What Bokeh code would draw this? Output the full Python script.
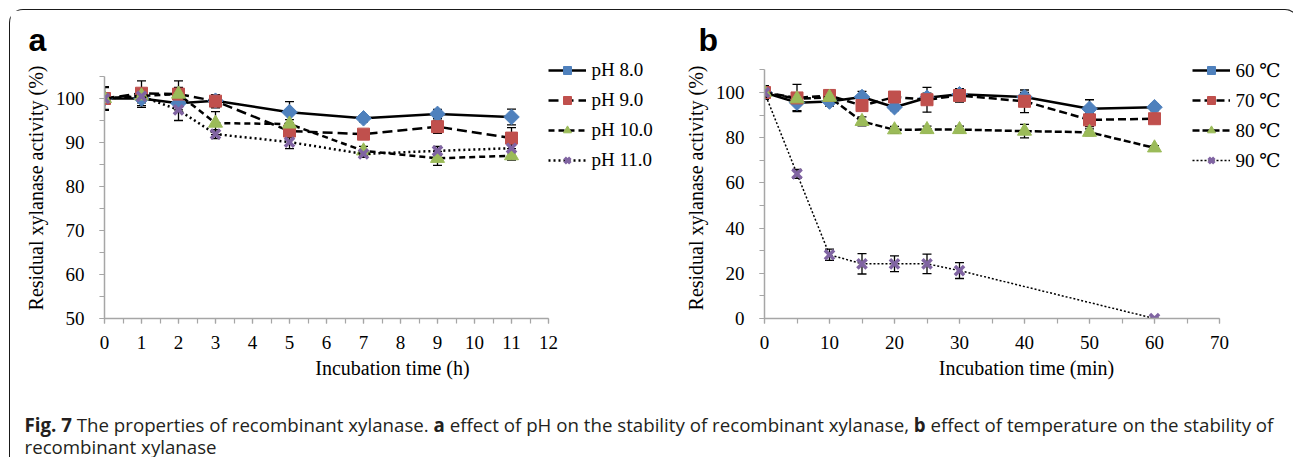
import math
from bokeh.plotting import figure
from bokeh.models import (Range1d, FixedTicker, Legend, LegendItem, Whisker,
                          ColumnDataSource, Div, TeeHead)
from bokeh.layouts import row, column
from bokeh.embed import file_html
from bokeh.resources import INLINE

# ---------------- data: panel a (pH stability) ----------------
hours = [0, 1, 2, 3, 5, 7, 9, 11]
ph_labels = ["pH 8.0", "pH 9.0", "pH 10.0", "pH 11.0"]
ph80 = [100.0, 100.0, 98.9, 99.5, 96.9, 95.5, 96.5, 95.8]
ph90 = [100.0, 101.2, 101.0, 99.4, 92.6, 91.9, 93.6, 91.0]
ph100 = [100.0, 100.6, 101.0, 94.4, 94.2, 88.1, 86.4, 87.0]
ph110 = [100.0, 100.5, 97.4, 91.9, 90.1, 87.4, 88.1, 88.7]
ph80_err = [2.5, 2.0, 1.5, 1.0, 2.4, 0.8, 1.0, 1.8]
ph90_err = [2.7, 2.8, 3.0, 1.5, 1.5, 1.0, 1.5, 2.4]
ph100_err = [1.0, 1.0, 1.5, 2.6, 1.0, 1.0, 1.6, 1.0]
ph110_err = [1.0, 1.5, 2.4, 1.0, 1.5, 0.8, 1.0, 1.0]

# ---------------- data: panel b (temperature stability) ----------------
minutes = [0, 5, 10, 15, 20, 25, 30, 40, 50, 60]
minutes90 = [0, 5, 10, 15, 20, 25, 30, 60]
temp_labels = ["60 \u2103", "70 \u2103", "80 \u2103", "90 \u2103"]
t60 = [100.0, 95.5, 96.0, 98.0, 93.5, 97.7, 99.2, 98.0, 92.8, 93.5]
t70 = [100.0, 97.6, 98.7, 94.2, 98.0, 96.8, 98.7, 96.1, 87.9, 88.4]
t80 = [100.0, 97.2, 97.9, 87.2, 83.5, 83.6, 83.6, 82.9, 82.4, 75.5]
t90 = [100.0, 64.0, 28.2, 24.2, 24.2, 24.2, 21.2, 0.0]
t60_err = [2.5, 3.5, 2.0, 2.5, 1.5, 2.0, 2.0, 2.0, 4.0, 1.5]
t70_err = [3.0, 6.0, 2.5, 2.0, 2.0, 5.5, 3.0, 5.0, 3.0, 2.0]
t80_err = [2.0, 2.0, 2.0, 2.0, 1.5, 1.5, 1.5, 3.0, 1.5, 1.0]
t90_err = [2.0, 2.0, 2.5, 4.5, 3.5, 4.3, 3.5, 0.0]

# axis ticks / labels
a_xbounds, a_ybounds = (0, 12), (50, 105)
b_xbounds, b_ybounds = (0, 70), (0, 110)
a_xticks = list(range(0, 13))
a_yticks = [50, 60, 70, 80, 90, 100]
b_xticks = [0, 10, 20, 30, 40, 50, 60, 70]
b_yticks = [0, 20, 40, 60, 80, 100]
a_xlabel = "Incubation time (h)"
b_xlabel = "Incubation time (min)"
ylabel = "Residual xylanase activity (%)"
panel_letters = ["a", "b"]

caption_bold = "Fig. 7"
caption_line1 = (" The properties of recombinant xylanase. <b>a</b> effect of pH on the stability of "
                 "recombinant xylanase, <b>b</b> effect of temperature on the stability of")
caption_line2 = "recombinant xylanase"

# ---------------- styles ----------------
BLUE, RED, GREEN, PURPLE = "#4F81BD", "#C0504D", "#9BBB59", "#8064A2"
AXIS_COL = "#a6a6a6"
SERIF = "Liberation Serif"
SERIF_FB = "'Liberation Serif', 'DejaVu Serif', serif"
FS = "19px"
FS_TITLE = "20px"


def make_fig(w, h, ml, mt, mb, xbounds, ybounds, px_per_x, px_per_y,
             letter, letter_off, letter_standoff):
    frame_w = w - ml
    frame_h = h - mt - mb
    # the frame is wider/taller than the axes' bounds so the legend fits inside
    xr = Range1d(xbounds[0], xbounds[0] + frame_w / px_per_x)
    yr = Range1d(ybounds[0], ybounds[0] + frame_h / px_per_y)
    p = figure(width=w, height=h, x_range=xr, y_range=yr,
               output_backend="svg", toolbar_location=None,
               min_border_left=ml, min_border_right=0,
               min_border_top=mt, min_border_bottom=mb)
    p.outline_line_color = None
    p.grid.visible = False
    p.border_fill_color = "white"
    p.title.text = letter
    p.title.align = "left"
    p.title.offset = letter_off
    p.title.standoff = letter_standoff
    p.title.text_font = "Liberation Sans"
    p.title.text_font_style = "bold"
    p.title.text_font_size = "32px"
    p.title.text_color = "black"
    p.xaxis.bounds = xbounds
    p.yaxis.bounds = ybounds
    for ax in (p.xaxis[0], p.yaxis[0]):
        ax.axis_line_color = AXIS_COL
        ax.axis_line_width = 1.5
        ax.major_tick_line_color = AXIS_COL
        ax.minor_tick_line_color = AXIS_COL
        ax.major_tick_line_width = 1.2
        ax.minor_tick_line_width = 1.2
        ax.major_tick_in = 0
        ax.major_tick_out = 5
        ax.minor_tick_in = 0
        ax.minor_tick_out = 5
        ax.major_label_text_font = SERIF
        ax.major_label_text_font_size = FS
        ax.major_label_text_color = "black"
        ax.axis_label_text_font = SERIF
        ax.axis_label_text_font_size = FS_TITLE
        ax.axis_label_text_font_style = "normal"
        ax.axis_label_text_color = "black"
    p.xaxis.major_label_standoff = 12
    p.xaxis.axis_label_standoff = 5
    p.yaxis.major_label_standoff = 15
    p.yaxis.axis_label_standoff = 6
    return p


def add_series(p, xs, ys, errs, color, marker, size, dash, lw, mlw=1):
    src = ColumnDataSource(dict(x=xs, y=ys,
                                upper=[y + e for y, e in zip(ys, errs)],
                                lower=[y - e for y, e in zip(ys, errs)]))
    wh = Whisker(source=src, base="x", upper="upper", lower="lower",
                 line_color="black", line_width=1.3,
                 upper_head=TeeHead(size=9, line_color="black", line_width=1.3),
                 lower_head=TeeHead(size=9, line_color="black", line_width=1.3))
    p.add_layout(wh)
    ln = p.line("x", "y", source=src, line_color="black", line_width=lw, line_dash=dash)
    angle = math.pi / 4 if marker == "diamond" else 0
    m = "square" if marker == "diamond" else marker
    if m == "x":
        sc = p.scatter("x", "y", source=src, marker="x", size=size, line_color=color,
                       line_width=mlw)
    else:
        sc = p.scatter("x", "y", source=src, marker=m, size=size, angle=angle,
                       fill_color=color, line_color=color, line_width=1)
    return [ln, sc]


def style_legend(lg, spacing):
    lg.background_fill_alpha = 0
    lg.border_line_color = None
    lg.padding = 0
    lg.margin = 0
    lg.spacing = spacing
    lg.glyph_width = 38
    lg.glyph_height = 20
    lg.label_height = 20
    lg.label_standoff = 6
    lg.label_text_font = SERIF_FB
    lg.label_text_font_size = FS
    lg.label_text_color = "black"


# ---------------- panel a ----------------
pa = make_fig(670, 390, 94, 47, 82, a_xbounds, a_ybounds, 37.0, 4.4,
              panel_letters[0], -76, 0)
pa.xaxis.ticker = FixedTicker(ticks=a_xticks, minor_ticks=[i * 0.5 for i in range(25)])
pa.yaxis.ticker = FixedTicker(ticks=a_yticks, minor_ticks=[50 + 5 * i for i in range(12)])
pa.xaxis.axis_label = a_xlabel
pa.yaxis.axis_label = ylabel

ra = [
    add_series(pa, hours, ph80, ph80_err, BLUE, "diamond", 11, "solid", 2.5),
    add_series(pa, hours, ph90, ph90_err, RED, "square", 12, "10 5", 2.5),
    add_series(pa, hours, ph100, ph100_err, GREEN, "triangle", 14, "6 4", 2.5),
    add_series(pa, hours, ph110, ph110_err, PURPLE, "x", 13, "2 3", 2.5, mlw=3.5),
]
lga = Legend(items=[LegendItem(label=l, renderers=r) for l, r in zip(ph_labels, ra)],
             location=(444, 147))
style_legend(lga, 8)
pa.add_layout(lga)

# ---------------- panel b ----------------
pb = make_fig(608, 390, 84, 47, 82, b_xbounds, b_ybounds, 6.5, 2.26,
              panel_letters[1], -66, 0)
pb.xaxis.ticker = FixedTicker(ticks=b_xticks, minor_ticks=[5 * i for i in range(15)])
pb.yaxis.ticker = FixedTicker(ticks=b_yticks, minor_ticks=[10 * i for i in range(12)])
pb.xaxis.axis_label = b_xlabel
pb.yaxis.axis_label = ylabel

rb = [
    add_series(pb, minutes, t60, t60_err, BLUE, "diamond", 11, "solid", 2.5),
    add_series(pb, minutes, t70, t70_err, RED, "square", 12, "8 4", 2.5),
    add_series(pb, minutes, t80, t80_err, GREEN, "triangle", 14, "7 3", 2.5),
    add_series(pb, minutes90, t90, t90_err, PURPLE, "x", 13, "2 2", 1.5, mlw=3.5),
]
lgb = Legend(items=[LegendItem(label=l, renderers=r) for l, r in zip(temp_labels, rb)],
             location=(428, 146))
style_legend(lgb, 7)
pb.add_layout(lgb)

# ---------------- caption ----------------
cap_html = ('<div style="font-family:\'Open Sans\'; font-size:18.7px; color:#231f20; '
            'line-height:22.5px; white-space:nowrap; padding:9px 0 0 10px;">'
            '<b>' + caption_bold + '</b>' + caption_line1 + '<br>' + caption_line2 + '</div>')
cap = Div(text=cap_html, width=1278, height=56)

layout = column(row(pa, pb), cap,
                styles={"border": "1.5px solid #1a1a1a", "border-bottom": "none",
                        "border-radius": "14px 14px 0 0", "background": "white",
                        "margin": "8.5px 0 0 8.5px"})

open("out.html", "w").write(file_html(layout, INLINE))
